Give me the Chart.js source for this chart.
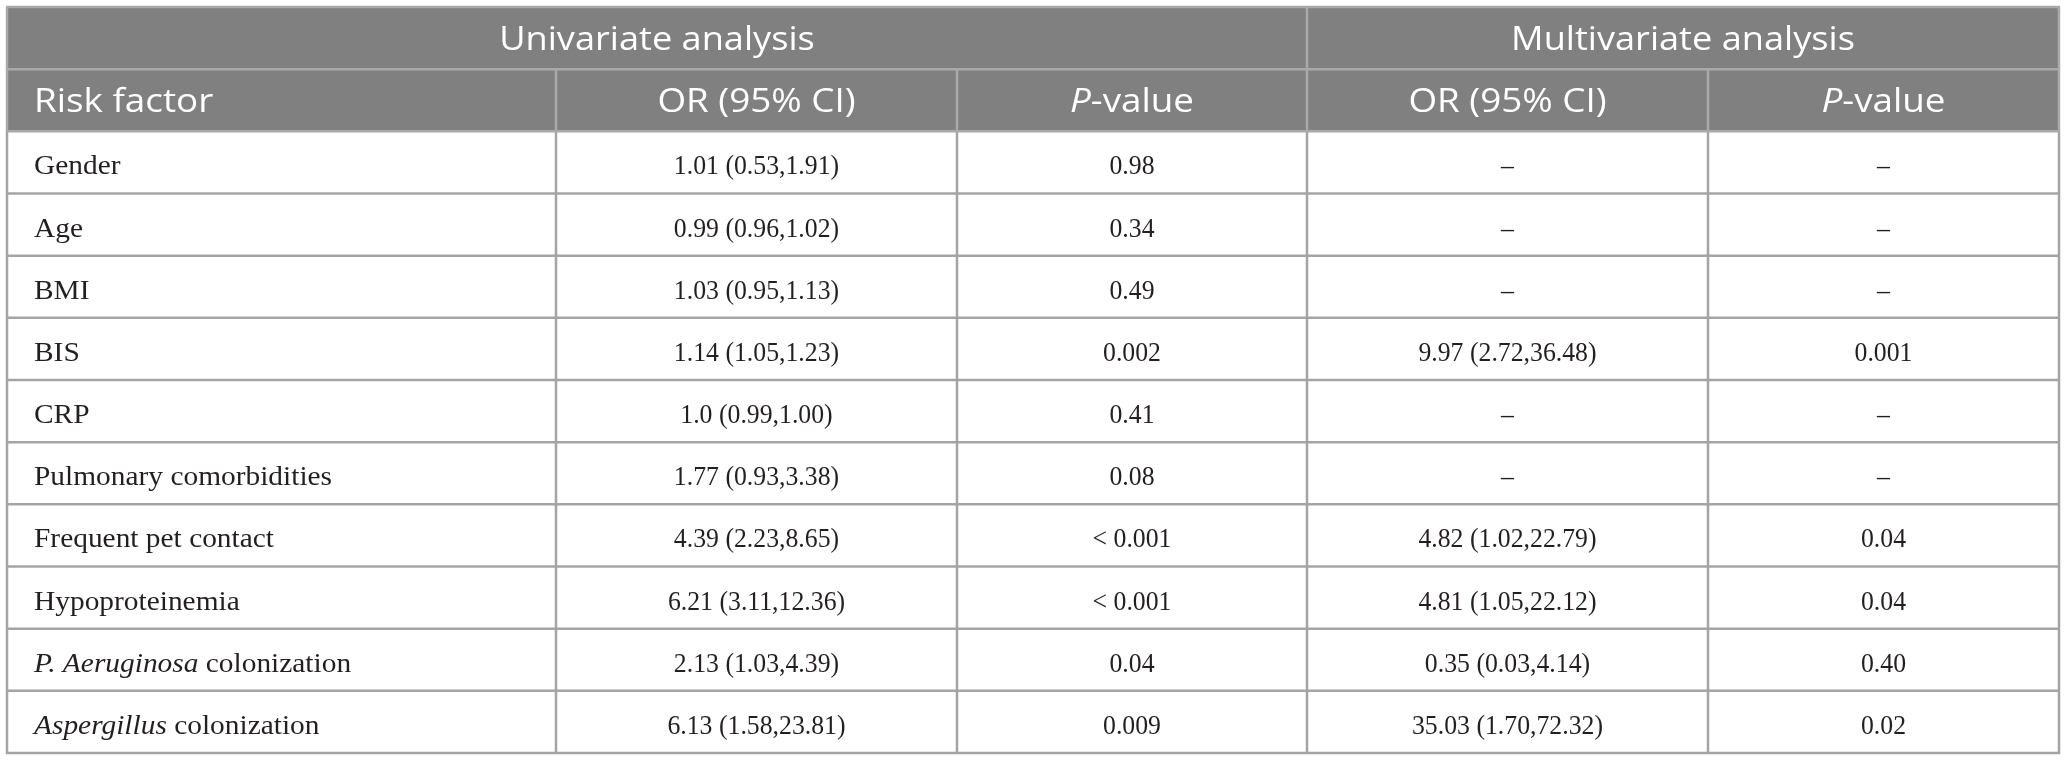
<!DOCTYPE html>
<html>
<head>
<meta charset="utf-8">
<script src="https://cdn.jsdelivr.net/npm/chart.js@4.4.1/dist/chart.umd.min.js"></script>
<style>
  html, body { margin: 0; padding: 0; background: #ffffff; }
  #wrap { width: 2066px; height: 760px; }
</style>
</head>
<body>
<div id="wrap"><canvas id="c" width="2066" height="760"></canvas></div>
<script>
// ---------------- data ----------------
const groupHeaders = ['Univariate analysis', 'Multivariate analysis'];
const columnHeaders = ['Risk factor', 'OR (95% CI)', 'P-value', 'OR (95% CI)', 'P-value'];
const columnHeaderItalic = ['', '', 'P', '', 'P'];
const riskFactors = [
  'Gender', 'Age', 'BMI', 'BIS', 'CRP', 'Pulmonary comorbidities',
  'Frequent pet contact', 'Hypoproteinemia',
  'P. Aeruginosa colonization', 'Aspergillus colonization'
];
const riskFactorItalic = ['', '', '', '', '', '', '', '', 'P. Aeruginosa', 'Aspergillus'];
const uniOR = [
  '1.01 (0.53,1.91)', '0.99 (0.96,1.02)', '1.03 (0.95,1.13)', '1.14 (1.05,1.23)',
  '1.0 (0.99,1.00)', '1.77 (0.93,3.38)', '4.39 (2.23,8.65)', '6.21 (3.11,12.36)',
  '2.13 (1.03,4.39)', '6.13 (1.58,23.81)'
];
const uniP = ['0.98', '0.34', '0.49', '0.002', '0.41', '0.08', '< 0.001', '< 0.001', '0.04', '0.009'];
const multiOR = [
  '–', '–', '–', '9.97 (2.72,36.48)', '–', '–',
  '4.82 (1.02,22.79)', '4.81 (1.05,22.12)', '0.35 (0.03,4.14)', '35.03 (1.70,72.32)'
];
const multiP = ['–', '–', '–', '0.001', '–', '–', '0.04', '0.04', '0.40', '0.02'];

// ---------------- layout (not data) ----------------
const TABLE_W = 2052;
const colEdges = [0, 549, 950, 1300, 1701, 2052];
const groupSpans = [[0, 3], [3, 5]];
const HEADER_BG = '#808080';
const HEADER_LINE = '#a9a9a9';
const BODY_LINE = '#a4a4a4';
const TEXT_DARK = '#231f20';
const HEAD_FONT = '"Open Sans", "DejaVu Sans", sans-serif';
const BODY_FONT = '"Liberation Serif", "DejaVu Serif", serif';

const rowKeys = ['__group__', '__columns__'].concat(riskFactors);
const bodyColumns = [uniOR, uniP, multiOR, multiP];

function drawRich(ctx, segs, x, y, align, size, family, sx) {
  let widths = segs.map(s => {
    ctx.font = (s.italic ? 'italic ' : '') + size + 'px ' + family;
    return ctx.measureText(s.text).width;
  });
  const total = widths.reduce((a, b) => a + b, 0) * sx;
  let cur = align === 'center' ? x - total / 2 : x;
  segs.forEach((s, i) => {
    ctx.font = (s.italic ? 'italic ' : '') + size + 'px ' + family;
    ctx.save();
    ctx.translate(cur, y);
    ctx.scale(sx, 1);
    ctx.textAlign = 'left';
    ctx.textBaseline = 'alphabetic';
    ctx.fillText(s.text, 0, 0);
    ctx.restore();
    cur += widths[i] * sx;
  });
}

function splitItalic(text, prefix) {
  if (prefix && text.startsWith(prefix)) {
    return [{ text: prefix, italic: true }, { text: text.slice(prefix.length), italic: false }];
  }
  return [{ text: text, italic: false }];
}

const tablePlugin = {
  id: 'tablePlugin',
  afterDatasetsDraw(chart) {
    const ctx = chart.ctx;
    const xs = chart.scales.x, ys = chart.scales.y;
    const X = v => xs.getPixelForValue(v);
    const rowH = Math.abs(ys.getPixelForValue(1) - ys.getPixelForValue(0));
    const cy = i => ys.getPixelForValue(i);
    const top = i => cy(i) - rowH / 2;
    const bot = i => cy(i) + rowH / 2;
    const nRows = rowKeys.length;

    function line(x1, y1, x2, y2, color, w) {
      ctx.save();
      ctx.strokeStyle = color;
      ctx.lineWidth = w;
      ctx.beginPath();
      ctx.moveTo(x1, y1);
      ctx.lineTo(x2, y2);
      ctx.stroke();
      ctx.restore();
    }

    // body grid
    for (let i = 2; i < nRows; i++) {
      line(X(0) - 1, bot(i), X(TABLE_W) + 1, bot(i), BODY_LINE, 2.5);
    }
    colEdges.forEach(e => line(X(e), top(2), X(e), bot(nRows - 1) + 1, BODY_LINE, 2.5));

    // header grid
    line(X(0) - 1, top(0), X(TABLE_W) + 1, top(0), HEADER_LINE, 2.5);
    line(X(0), bot(0), X(TABLE_W), bot(0), HEADER_LINE, 2.5);
    line(X(0) - 1, bot(1), X(TABLE_W) + 1, bot(1), HEADER_LINE, 2.5);
    [colEdges[0], colEdges[3], colEdges[5]].forEach(e =>
      line(X(e), top(0), X(e), bot(0), HEADER_LINE, 2.5));
    colEdges.forEach(e => line(X(e), top(1), X(e), bot(1), HEADER_LINE, 2.5));

    // header text
    ctx.fillStyle = '#ffffff';
    groupHeaders.forEach((g, gi) => {
      const [s, e] = groupSpans[gi];
      const cx = (X(colEdges[s]) + X(colEdges[e])) / 2;
      drawRich(ctx, [{ text: g, italic: false }], cx, cy(0) + 12, 'center', 32, HEAD_FONT, 1.13);
    });
    columnHeaders.forEach((h, ci) => {
      const segs = splitItalic(h, columnHeaderItalic[ci]);
      if (ci === 0) {
        drawRich(ctx, segs, X(colEdges[0]) + 27, cy(1) + 12, 'left', 32, HEAD_FONT, 1.15);
      } else {
        const cx = (X(colEdges[ci]) + X(colEdges[ci + 1])) / 2;
        drawRich(ctx, segs, cx, cy(1) + 12, 'center', 32, HEAD_FONT, 1.15);
      }
    });

    // body text
    ctx.fillStyle = TEXT_DARK;
    riskFactors.forEach((rf, ri) => {
      const r = ri + 2;
      drawRich(ctx, splitItalic(rf, riskFactorItalic[ri]), X(colEdges[0]) + 27, cy(r) + 12,
        'left', 28, BODY_FONT, 1.05);
      bodyColumns.forEach((col, k) => {
        const ci = k + 1;
        const cx = (X(colEdges[ci]) + X(colEdges[ci + 1])) / 2;
        drawRich(ctx, [{ text: col[ri], italic: false }], cx, cy(r) + 12, 'center', 28, BODY_FONT, 0.92);
      });
    });
  }
};

new Chart(document.getElementById('c'), {
  type: 'bar',
  data: {
    labels: rowKeys,
    datasets: [{
      data: rowKeys.map((k, i) => (i < 2 ? [0, TABLE_W] : null)),
      backgroundColor: HEADER_BG,
      borderWidth: 0,
      barPercentage: 1,
      categoryPercentage: 1
    }]
  },
  options: {
    indexAxis: 'y',
    responsive: false,
    animation: false,
    devicePixelRatio: 1,
    layout: { padding: { left: 7, right: 7, top: 7, bottom: 7 } },
    plugins: { legend: { display: false }, tooltip: { enabled: false } },
    scales: {
      x: { type: 'linear', min: 0, max: TABLE_W, display: false },
      y: { type: 'category', display: false, offset: true }
    }
  },
  plugins: [tablePlugin]
});
</script>
</body>
</html>
